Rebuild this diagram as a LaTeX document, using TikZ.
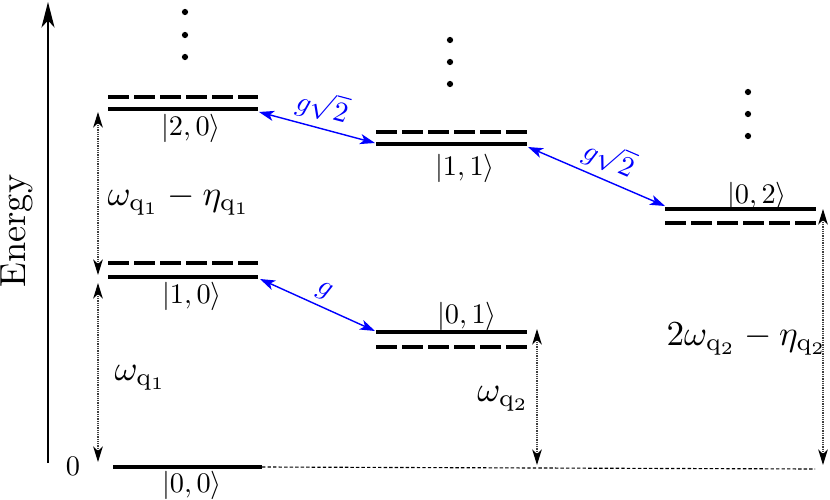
\documentclass[tikz,border=0pt]{standalone}
\usetikzlibrary{arrows.meta}
\tikzset{
  lvl/.style={line width=1.4pt},
  dlvl/.style={line width=1.4pt, dash pattern=on 7.25pt off 1.95pt},
  gaparrow/.style={line width=0.4pt, black!75, dash pattern=on 0.45pt off 0.35pt,
    {Stealth[length=5.5pt,width=3.4pt,inset=1.6pt,black]}-{Stealth[length=5.5pt,width=3.4pt,inset=1.6pt,black]}},
  coup/.style={blue, line width=0.5pt,
    {Stealth[length=5.3pt,width=3.6pt,inset=1.4pt]}-{Stealth[length=5.3pt,width=3.6pt,inset=1.4pt]}},
  ket/.style={inner sep=0pt},
  bigl/.style={inner sep=0pt},
  cplab/.style={blue, inner sep=2pt},
  dotn/.style={circle, fill=black, inner sep=0pt, minimum size=2.2pt},
  axisline/.style={line width=0.7pt, -{Stealth[length=9pt,width=4.6pt,inset=2.5pt]}},
  baseline0/.style={line width=0.4pt, dash pattern=on 1.2pt off 0.75pt}
}
\newcommand{\bigtxt}[1]{\scalebox{1.24}{#1}}
\begin{document}
\begin{tikzpicture}[x=0.3528pt,y=-0.3528pt]
\useasboundingbox (0,0) rectangle (830,500);

% energy axis
\coordinate (ax0) at (48,463);
\coordinate (ax1) at (48,2);
\draw[axisline] (ax0) -- (ax1);
\node[rotate=90, inner sep=0pt] (energy) at (16.5,231) {\scalebox{1.28}{Energy}};
\node[ket] (zero) at (73,466) {$0$};

% column 1 levels
\coordinate (s20w) at (108,109); \coordinate (s20e) at (258,109);
\coordinate (d20w) at (108,97);  \coordinate (d20e) at (258,97);
\coordinate (s10w) at (108,277); \coordinate (s10e) at (258,277);
\coordinate (d10w) at (108,263); \coordinate (d10e) at (258,263);
\coordinate (s00w) at (113,467); \coordinate (s00e) at (262,467);
\draw[lvl] (s20w) -- (s20e);
\draw[dlvl] (d20w) -- (d20e);
\draw[lvl] (s10w) -- (s10e);
\draw[dlvl] (d10w) -- (d10e);
\draw[lvl] (s00w) -- (s00e);

% column 2 levels
\coordinate (s11w) at (376,144); \coordinate (s11e) at (527,144);
\coordinate (d11w) at (376,132); \coordinate (d11e) at (527,132);
\coordinate (s01w) at (376,332); \coordinate (s01e) at (527,332);
\coordinate (d01w) at (376,347); \coordinate (d01e) at (527,347);
\draw[lvl] (s11w) -- (s11e);
\draw[dlvl] (d11w) -- (d11e);
\draw[lvl] (s01w) -- (s01e);
\draw[dlvl] (d01w) -- (d01e);

% column 3 levels
\coordinate (s02w) at (665,209); \coordinate (s02e) at (816,209);
\coordinate (d02w) at (665,223); \coordinate (d02e) at (816,223);
\draw[lvl] (s02w) -- (s02e);
\draw[dlvl] (d02w) -- (d02e);

% ground reference line
\coordinate (gref) at (815,469);
\draw[baseline0] (s00e) -- (gref);

% kets
\node[ket] (k20) at (191,128) {$|2,0\rangle$};
\node[ket] (k10) at (192,296) {$|1,0\rangle$};
\node[ket] (k00) at (192,485) {$|0,0\rangle$};
\node[ket] (k11) at (465,168) {$|1,1\rangle$};
\node[ket] (k01) at (467,316) {$|0,1\rangle$};
\node[ket] (k02) at (757,196) {$|0,2\rangle$};

% dots
\node[dotn] (c1a) at (185,12) {};
\node[dotn] (c1b) at (185,35) {};
\node[dotn] (c1c) at (185,57) {};
\node[dotn] (c2a) at (450,40) {};
\node[dotn] (c2b) at (450,62) {};
\node[dotn] (c2c) at (450,84) {};
\node[dotn] (c3a) at (748,92) {};
\node[dotn] (c3b) at (748,114) {};
\node[dotn] (c3c) at (748,136) {};

% energy gap arrows
\coordinate (g1t) at (98,112); \coordinate (g1b) at (98,275);
\coordinate (g2t) at (98,283); \coordinate (g2b) at (98,462);
\coordinate (g3t) at (537,329); \coordinate (g3b) at (537,465);
\coordinate (g4t) at (823,209); \coordinate (g4b) at (823,465);
\draw[gaparrow] (g1t) -- (g1b);
\draw[gaparrow] (g2t) -- (g2b);
\draw[gaparrow] (g3t) -- (g3b);
\draw[gaparrow] (g4t) -- (g4b);

\node[bigl, anchor=west] (lab1) at (107,200) {\bigtxt{$\omega_{\mathrm{q}_1}-\eta_{\mathrm{q}_1}$}};
\node[bigl, anchor=west] (lab2) at (114,378) {\bigtxt{$\omega_{\mathrm{q}_1}$}};
\node[bigl, anchor=east] (lab3) at (530,399) {\bigtxt{$\omega_{\mathrm{q}_2}$}};
\node[bigl, anchor=west] (lab4) at (666,339) {\bigtxt{$2\omega_{\mathrm{q}_2}-\eta_{\mathrm{q}_2}$}};

% couplings
\coordinate (a1s) at (259,112); \coordinate (a1e) at (375,143);
\coordinate (a2s) at (260,279); \coordinate (a2e) at (375,331);
\coordinate (a3s) at (528,147); \coordinate (a3e) at (665,206);
\draw[coup] (a1s) -- node[cplab, midway, sloped, above] (gl1) {$g\sqrt{2}$} (a1e);
\draw[coup] (a2s) -- node[cplab, midway, sloped, above] (gl2) {$g$} (a2e);
\draw[coup] (a3s) -- node[cplab, pos=0.53, sloped, above] (gl3) {$g\sqrt{2}$} (a3e);
\end{tikzpicture}
\end{document}
